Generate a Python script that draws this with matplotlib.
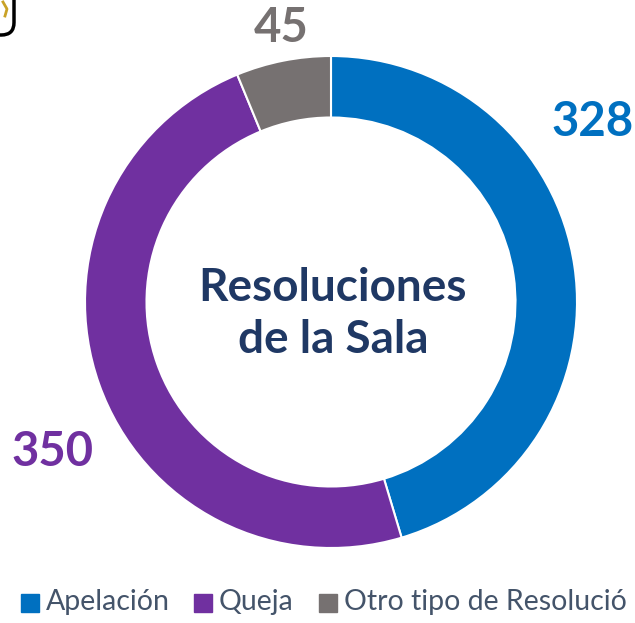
import matplotlib
matplotlib.use("Agg")
import matplotlib.pyplot as plt
from matplotlib.patches import FancyBboxPatch, Rectangle

categories = ["Apelación", "Queja", "Otro tipo de Resolució"]
values = [328, 350, 45]
colors = ["#0070C0", "#7030A0", "#767171"]

W, H = 635, 623
fig = plt.figure(figsize=(W/100, H/100), dpi=100)
fig.patch.set_facecolor("white")

# donut axes: center (331,302), radius 245
cx, cy, r = 331, 302, 246
ax = fig.add_axes([(cx - r)/W, 1 - (cy + r)/H, 2*r/W, 2*r/H])
wedges, _ = ax.pie(values, colors=colors, startangle=90, counterclock=False,
                   wedgeprops=dict(width=0.25, edgecolor="white", linewidth=1.5))
ax.set_xlim(-1, 1); ax.set_ylim(-1, 1)
ax.set_aspect("equal")
ax.axis("off")

fig.text(333/W, 1 - 314/H, "Resoluciones\nde la Sala", ha="center", va="center",
         fontsize=33, fontweight="bold", color="#1F3864", family="Lato",
         linespacing=1.3)

# value labels
label_pos = [(593, 122), (52, 452), (281, 28)]
for (x, y), v, c in zip(label_pos, values, colors):
    fig.text(x/W, 1 - y/H, str(v), ha="center", va="center", fontsize=34,
             fontweight="bold", color=c, family="Lato")

# legend (manual)
leg_y = 603
items_x = [21, 194, 319]
for x, cat, c in zip(items_x, categories, colors):
    fig.patches.append(Rectangle((x/W, 1 - (leg_y + 9)/H), 18/W, 18/H,
                                 transform=fig.transFigure, color=c))
    fig.text((x + 25)/W, 1 - (leg_y - 1)/H, cat, ha="left", va="center",
             fontsize=20.5, color="#44546A", family="Lato")

# partial logo frame in top-left corner
fig.patches.append(FancyBboxPatch((-60/W, 1 - 35/H), 74/W, 60/H,
                                  boxstyle="round,pad=0,rounding_size=0.02",
                                  transform=fig.transFigure, fill=False,
                                  edgecolor="black", linewidth=2.5))
fig.lines.append(plt.Line2D([3/W, 7/W, 5/W], [1 - 2/H, 1 - 9/H, 1 - 16/H],
                            transform=fig.transFigure,
                            color="#C9A227", linewidth=2))

fig.savefig("out.png", dpi=100)
